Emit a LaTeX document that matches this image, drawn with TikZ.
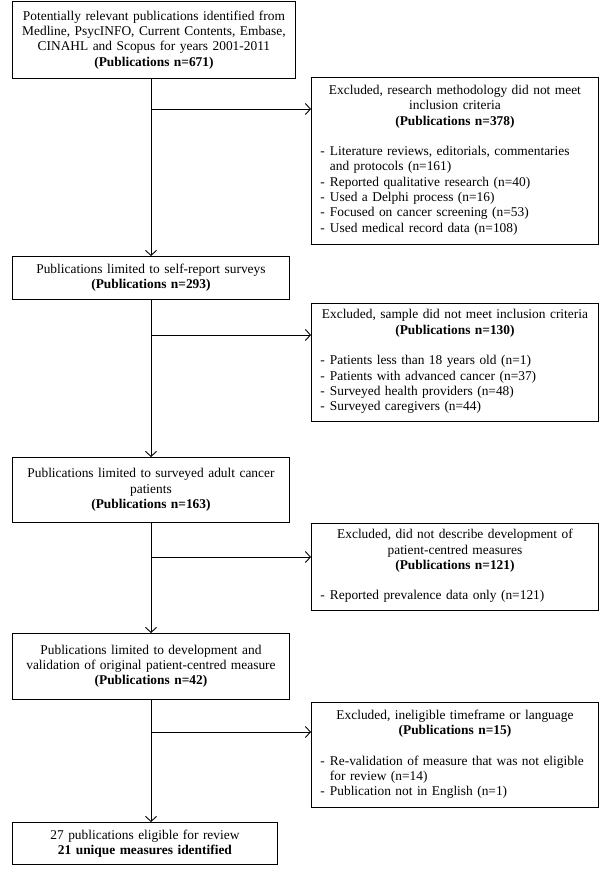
\documentclass[tikz,border=0pt]{standalone}
\usepackage{fontspec}
\setmainfont{Liberation Serif}
\usetikzlibrary{arrows.meta}
\newcommand{\itemtab}[1]{\makebox[\linewidth][l]{\begin{tabular}[t]{@{}l@{\hspace{5pt}}l@{}}#1\end{tabular}}}
\begin{document}
\begin{tikzpicture}[x=1pt,y=-1pt,
  box/.style={draw, line width=0.9pt, anchor=north west, inner ysep=0pt, align=center,
    font=\fontsize{13.4}{15.3}\selectfont},
  lbox/.style={box, inner xsep=4pt},
  ebox/.style={box, inner xsep=9pt, text width=269pt, minimum width=287pt},
  arr/.style={line width=0.9pt, -{Straight Barb[length=5pt,width=11pt]}}]
\useasboundingbox (0,0) rectangle (600,869);

\node[lbox, text width=275pt, minimum width=283pt, minimum height=77pt] (b1) at (12,1)
  {Potentially relevant publications identified from\\
   Medline, PsycINFO, Current Contents, Embase,\\
   CINAHL and Scopus for years 2001-2011\\
   \textbf{(Publications n=671)}};

\node[ebox, minimum height=167pt] (e1) at (311,77)
  {Excluded, research methodology did not meet\\
   inclusion criteria\\
   \textbf{(Publications n=378)}\\[15.3pt]
   \itemtab{- & Literature reviews, editorials, commentaries\\
            & and protocols (n=161)\\
            - & Reported qualitative research (n=40)\\
            - & Used a Delphi process (n=16)\\
            - & Focused on cancer screening (n=53)\\
            - & Used medical record data (n=108)}};

\node[lbox, text width=269pt, minimum width=277pt, minimum height=43pt] (b2) at (12,256)
  {Publications limited to self-report surveys\\
   \textbf{(Publications n=293)}};

\node[ebox, minimum height=118pt] (e2) at (311,303)
  {Excluded, sample did not meet inclusion criteria\\
   \textbf{(Publications n=130)}\\[15.3pt]
   \itemtab{- & Patients less than 18 years old (n=1)\\
            - & Patients with advanced cancer (n=37)\\
            - & Surveyed health providers (n=48)\\
            - & Surveyed caregivers (n=44)}};

\node[lbox, text width=269pt, minimum width=277pt, minimum height=65pt] (b3) at (12,457)
  {Publications limited to surveyed adult cancer\\
   patients\\
   \textbf{(Publications n=163)}};

\node[ebox, minimum height=87pt] (e3) at (311,523)
  {Excluded, did not describe development of\\
   patient-centred measures\\
   \textbf{(Publications n=121)}\\[15.3pt]
   \itemtab{- & Reported prevalence data only (n=121)}};

\node[lbox, text width=269pt, minimum width=277pt, minimum height=66pt] (b4) at (12,633)
  {Publications limited to development and\\
   validation of original patient-centred measure\\
   \textbf{(Publications n=42)}};

\node[ebox, minimum height=105pt] (e4) at (311,702)
  {Excluded, ineligible timeframe or language\\
   \textbf{(Publications n=15)}\\[15.3pt]
   \itemtab{- & Re-validation of measure that was not eligible\\
            & for review (n=14)\\
            - & Publication not in English (n=1)}};

\node[lbox, text width=257pt, minimum width=265pt, minimum height=42pt] (f) at (12,822)
  {27 publications eligible for review\\
   \textbf{21 unique measures identified}};

\coordinate (sp) at (151,0);
\coordinate (j1) at (151,109);
\coordinate (j2) at (151,335);
\coordinate (j3) at (151,557);
\coordinate (j4) at (151,732);

\draw[arr] (b1.south -| sp) -- (b2.north -| sp);
\draw[arr] (b2.south -| sp) -- (b3.north -| sp);
\draw[arr] (b3.south -| sp) -- (b4.north -| sp);
\draw[arr] (b4.south -| sp) -- (f.north -| sp);

\draw[arr] (j1) -- (j1 -| e1.west);
\draw[arr] (j2) -- (j2 -| e2.west);
\draw[arr] (j3) -- (j3 -| e3.west);
\draw[arr] (j4) -- (j4 -| e4.west);
\end{tikzpicture}
\end{document}
